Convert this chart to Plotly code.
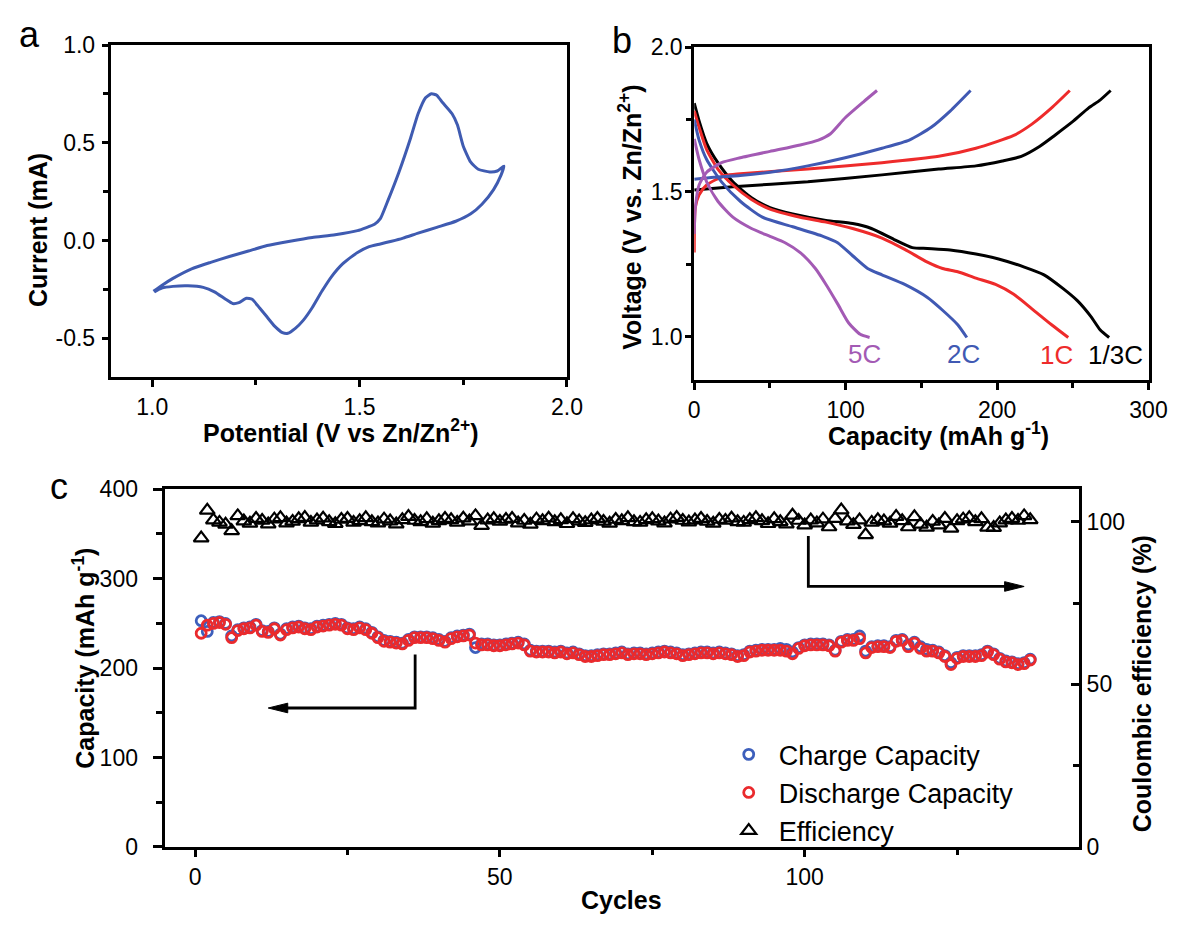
import plotly.graph_objects as go

W, H = 1191, 928
def px(x): return x / W
def py(y): return 1 - y / H

FONT = "Liberation Sans, Arial, sans-serif"

# ---------------- Panel a: CV curve ----------------
cv_potential = [1.003, 1.023, 1.05, 1.095, 1.141, 1.186, 1.232, 1.277, 1.332, 1.386, 1.441, 1.495,
                1.536, 1.55, 1.568, 1.595, 1.623, 1.641, 1.659, 1.673, 1.686, 1.70, 1.723, 1.736,
                1.75, 1.768, 1.786, 1.814, 1.832, 1.848,
                1.841, 1.823, 1.795, 1.768, 1.732, 1.686, 1.641, 1.605, 1.577, 1.55, 1.523, 1.495,
                1.459, 1.432, 1.409, 1.386, 1.364, 1.345, 1.327, 1.314, 1.295, 1.277, 1.259, 1.241,
                1.227, 1.209, 1.194, 1.177, 1.15, 1.123, 1.086, 1.05, 1.023, 1.005]
cv_current = [-0.259, -0.229, -0.193, -0.144, -0.111, -0.081, -0.053, -0.025, -0.003, 0.016, 0.030, 0.051,
              0.084, 0.112, 0.203, 0.351, 0.525, 0.649, 0.731, 0.751, 0.744, 0.706, 0.649, 0.591,
              0.483, 0.401, 0.365, 0.351, 0.356, 0.381,
              0.335, 0.261, 0.186, 0.137, 0.099, 0.068, 0.038, 0.013, -0.003, -0.017, -0.031, -0.061,
              -0.119, -0.185, -0.259, -0.342, -0.408, -0.449, -0.474, -0.470, -0.437, -0.391, -0.345, -0.300,
              -0.295, -0.317, -0.322, -0.300, -0.262, -0.239, -0.231, -0.234, -0.243, -0.262]
cv_ytick_vals = [-0.5, 0.0, 0.5, 1.0]
cv_ytick_text = ["-0.5", "0.0", "0.5", "1.0"]

# ---------------- Panel b: charge/discharge ----------------
c13_ch_cap = [0, 25.5, 75, 124, 161.5, 186, 203.5, 216, 228, 238, 250.5, 260.5, 268, 275]
c13_ch_v = [1.507, 1.518, 1.535, 1.559, 1.579, 1.590, 1.607, 1.623, 1.657, 1.695, 1.745, 1.790, 1.817, 1.85]
c13_dis_cap = [0, 3.2, 8.2, 15.6, 25.5, 37.8, 50, 65, 87, 104.6, 117, 132, 144, 154, 169, 186, 201, 218,
               231, 243, 253, 262, 268, 274]
c13_dis_v = [1.806, 1.745, 1.668, 1.601, 1.535, 1.480, 1.446, 1.424, 1.402, 1.391, 1.374, 1.336, 1.308,
             1.305, 1.300, 1.286, 1.269, 1.241, 1.214, 1.169, 1.125, 1.070, 1.025, 0.998]

c1_ch_cap = [0, 0.7, 3.2, 8.2, 20.5, 30.4, 75, 124, 161.5, 186, 211, 223, 236, 248]
c1_ch_v = [1.291, 1.446, 1.490, 1.524, 1.557, 1.563, 1.579, 1.601, 1.623, 1.651, 1.695, 1.734, 1.790, 1.850]
c1_dis_cap = [0, 3.2, 8.2, 15.6, 25.5, 37.8, 50, 70, 87, 104.6, 124, 139, 154, 164, 174, 186, 199, 211,
              223, 236, 247]
c1_dis_v = [1.780, 1.723, 1.646, 1.579, 1.524, 1.474, 1.441, 1.413, 1.396, 1.374, 1.341, 1.302, 1.258,
            1.236, 1.225, 1.203, 1.181, 1.147, 1.097, 1.042, 0.998]

c2_ch_cap = [0, 13, 30.4, 50, 75, 99.7, 124, 142, 156.5, 169, 182.5]
c2_ch_v = [1.544, 1.551, 1.557, 1.568, 1.590, 1.618, 1.651, 1.679, 1.723, 1.779, 1.850]
c2_dis_cap = [0, 3.2, 8.2, 18, 30.4, 45, 65, 85, 94.7, 104.6, 114.5, 124, 139, 154, 164, 174, 180]
c2_dis_v = [1.750, 1.679, 1.612, 1.535, 1.468, 1.413, 1.380, 1.347, 1.325, 1.280, 1.236, 1.214, 1.181,
            1.136, 1.092, 1.042, 0.998]

c5_ch_cap = [0, 0.7, 3.2, 8.2, 18, 30.4, 50, 70, 82, 90, 99.7, 112, 120.7]
c5_ch_v = [1.355, 1.446, 1.524, 1.568, 1.601, 1.618, 1.640, 1.662, 1.679, 1.701, 1.756, 1.812, 1.850]
c5_dis_cap = [0, 3.2, 8.2, 15.6, 25.5, 37.8, 50, 60, 70, 80, 87, 94.7, 102, 109.6, 115.8]
c5_dis_v = [1.683, 1.612, 1.535, 1.468, 1.413, 1.374, 1.347, 1.325, 1.291, 1.236, 1.181, 1.114, 1.048,
            1.009, 0.998]

rate_labels = ["5C", "2C", "1C", "1/3C"]

# ---------------- Panel c: cycling ----------------
cycles = list(range(1, 138))
discharge = [239, 248, 250, 251, 249, 234, 242, 244, 245, 248, 241, 240, 244, 237, 243, 245, 246, 244, 243, 246,
             247, 248, 249, 248, 244, 243, 245, 243, 239, 234, 230, 229, 228, 227, 231, 234, 234, 234, 233, 231,
             229, 233, 235, 236, 237, 228, 226, 226, 225, 225, 226, 227, 228, 226, 219, 218, 218, 218, 217, 218,
             216, 217, 215, 213, 213, 214, 215, 215, 216, 217, 215, 216, 216, 215, 216, 217, 218, 217, 216, 214,
             215, 216, 217, 217, 216, 217, 216, 215, 213, 214, 218, 219, 220, 220, 220, 220, 219, 216, 222, 225,
             226, 226, 226, 225, 219, 229, 231, 231, 233, 217, 223, 224, 224, 223, 230, 231, 224, 228, 222, 219,
             219, 217, 213, 204, 211, 213, 213, 213, 214, 218, 215, 210, 207, 206, 204, 205, 209]
charge = [253, 241, 251, 252, 250, 236, 243, 245, 246, 249, 242, 241, 245, 238, 244, 246, 247, 245, 244, 247,
          248, 249, 250, 249, 245, 244, 246, 244, 240, 235, 231, 230, 229, 228, 232, 235, 235, 235, 234, 232,
          230, 234, 236, 237, 238, 223, 227, 227, 226, 226, 227, 228, 229, 227, 220, 219, 219, 219, 218, 219,
          217, 218, 216, 214, 214, 215, 216, 216, 217, 218, 216, 217, 217, 216, 217, 218, 219, 218, 217, 215,
          216, 217, 218, 218, 217, 218, 217, 216, 214, 215, 219, 220, 221, 221, 221, 222, 221, 218, 223, 226,
          227, 227, 227, 226, 220, 230, 232, 232, 236, 219, 224, 225, 225, 224, 231, 232, 226, 229, 224, 221,
          220, 218, 214, 206, 212, 214, 214, 214, 215, 219, 216, 211, 208, 207, 205, 206, 210]
efficiency = [95.0, 103.5, 100.5, 99.8, 99.2, 97.2, 101.8, 100.2, 99.5, 101.0, 100.4, 99.3, 100.8, 101.2, 99.6,
              100.1, 100.9, 101.3, 99.8, 100.5, 101.1, 100.0, 99.4, 100.7, 101.0, 99.8, 100.3, 101.2, 100.0, 99.6,
              100.8, 100.2, 99.3, 100.6, 101.6, 100.4, 100.0, 100.9, 99.5, 100.3, 101.0, 100.6, 99.8, 101.1, 100.2,
              101.8, 98.8, 100.5, 100.9, 100.1, 100.7, 101.0, 99.6, 100.4, 99.2, 100.8, 100.3, 101.1, 100.0, 100.6,
              99.4, 100.9, 100.2, 99.7, 100.5, 101.0, 100.1, 99.5, 100.7, 100.3, 101.2, 100.0, 99.8, 100.6, 100.9,
              100.2, 99.6, 100.8, 101.3, 100.4, 99.9, 100.5, 101.0, 100.1, 99.5, 100.7, 100.4, 101.1, 100.0, 99.8,
              100.6, 101.2, 100.3, 99.4, 100.9, 100.0, 99.3, 102.0, 100.4, 99.0, 100.5, 99.6, 100.8, 98.4, 101.0,
              103.6, 100.2, 99.1, 100.5, 96.0, 99.8, 100.6, 100.2, 99.5, 101.6, 100.3, 98.4, 101.5, 99.2, 98.3,
              100.1, 99.0, 101.0, 98.0, 100.3, 100.8, 101.2, 100.0, 100.9, 98.3, 98.2, 99.6, 100.5, 101.0, 100.4,
              101.8, 100.6]

CV_BLUE = "#3f5bb1"
B_BLUE = "#4059b3"
B_RED = "#ee2b2b"
B_PURPLE = "#a35ab4"
C_BLUE = "#3d5fbc"
C_RED = "#ea2a2d"

fig = go.Figure()

fig.add_trace(go.Scatter(x=cv_potential, y=cv_current, mode="lines",
                         line=dict(color=CV_BLUE, width=3, shape="spline", smoothing=0.5),
                         xaxis="x", yaxis="y", showlegend=False))

for caps, vs, col in [(c13_ch_cap, c13_ch_v, "black"), (c13_dis_cap, c13_dis_v, "black"),
                      (c1_ch_cap, c1_ch_v, B_RED), (c1_dis_cap, c1_dis_v, B_RED),
                      (c2_ch_cap, c2_ch_v, B_BLUE), (c2_dis_cap, c2_dis_v, B_BLUE),
                      (c5_ch_cap, c5_ch_v, B_PURPLE), (c5_dis_cap, c5_dis_v, B_PURPLE)]:
    fig.add_trace(go.Scatter(x=caps, y=vs, mode="lines", line=dict(color=col, width=3, shape="spline", smoothing=0.6),
                             xaxis="x2", yaxis="y2", showlegend=False))

fig.add_trace(go.Scatter(x=cycles, y=charge, mode="markers", name="Charge Capacity",
                         marker=dict(symbol="circle-open", size=10, color=C_BLUE, line=dict(width=2.8, color=C_BLUE)),
                         xaxis="x3", yaxis="y3"))
fig.add_trace(go.Scatter(x=cycles, y=discharge, mode="markers", name="Discharge Capacity",
                         marker=dict(symbol="circle-open", size=10, color=C_RED, line=dict(width=2.8, color=C_RED)),
                         xaxis="x3", yaxis="y3"))
fig.add_trace(go.Scatter(x=cycles, y=efficiency, mode="markers", name="Efficiency",
                         marker=dict(symbol="triangle-up-open", size=13, color="black", line=dict(width=2.2, color="black")),
                         xaxis="x3", yaxis="y4"))

def axis(**kw):
    d = dict(showline=True, linecolor="black", linewidth=3, ticks="outside", tickwidth=3,
             ticklen=7, tickcolor="black", showgrid=False, zeroline=False,
             tickfont=dict(family=FONT, size=23, color="black"))
    d.update(kw)
    return d

def minor(dt, ticks="outside", ln=5):
    return dict(ticks=ticks, dtick=dt, ticklen=ln, tickwidth=3, tickcolor="black")

fig.update_layout(
    width=W, height=H, margin=dict(l=0, r=0, t=0, b=0),
    paper_bgcolor="white", plot_bgcolor="white",
    font=dict(family=FONT, color="black"),
    xaxis=axis(domain=[px(107), px(573)], range=[0.9, 2.0], tick0=1.0, dtick=0.5, tickformat=".1f",
               mirror=True, anchor="y", minor=minor(0.25)),
    yaxis=axis(domain=[py(375), py(33)], range=[-0.7, 1.0], tickmode="array",
               tickvals=cv_ytick_vals, ticktext=cv_ytick_text,
               mirror=True, anchor="x", minor=minor(0.25), ticklen=6, ticklabelstandoff=2),
    xaxis2=axis(domain=[px(703), px(1167)], range=[0, 300], tick0=0, dtick=100,
                mirror=True, anchor="y2", minor=minor(50)),
    yaxis2=axis(domain=[py(378), py(35)], range=[0.85, 2.0], tick0=0, dtick=0.5, tickformat=".1f",
                mirror=True, anchor="x2", minor=minor(0.25), ticklen=6, ticklabelstandoff=-2),
    xaxis3=axis(domain=[px(162), px(1096)], range=[-5, 145], tick0=0, dtick=50,
                mirror=True, anchor="y3", minor=minor(25)),
    yaxis3=axis(domain=[py(858), py(490)], range=[0, 400], tick0=0, dtick=100,
                anchor="x3", minor=minor(50, ln=6), ticklen=9, ticklabelstandoff=10),
    yaxis4=axis(domain=[py(858), py(490)], range=[0, 110], tick0=0, dtick=50, overlaying="y3", side="right",
                anchor="x3", ticks="inside", ticklen=8, minor=minor(25, ticks="inside", ln=6)),
    legend=dict(x=px(728), y=py(738), xanchor="left", yanchor="top", bgcolor="rgba(0,0,0,0)",
                font=dict(family=FONT, size=27, color="black"), itemsizing="trace", itemwidth=50,
                tracegroupgap=0),
)

ann = []
def label(text, x, y, size, angle=0, color="black"):
    ann.append(dict(text=text, x=px(x), y=py(y), xref="paper", yref="paper", showarrow=False,
                    xanchor="center", yanchor="middle", textangle=angle,
                    font=dict(family=FONT, size=size, color=color)))

label("a", 24, 22, 36)
label("b", 629, 28, 36)
label("c", 54, 487, 36)
label("<b>Potential (V vs Zn/Zn<sup>2+</sup>)</b>", 342, 430, 25)
label("<b>Current (mA)</b>", 32, 223, 25, -90)
label("<b>Capacity (mAh g<sup>-1</sup>)</b>", 953, 433, 25)
label("<b>Voltage (V vs. Zn/Zn<sup>2+</sup>)</b>", 638, 210, 25, -90)
label("<b>Cycles</b>", 629, 913, 25)
label("<b>Capacity (mAh g<sup>-1</sup>)</b>", 80, 664, 25, -90)
label("<b>Coulombic efficiency (%)</b>", 1160, 690, 25, -90)
for txt, xx, yy, col in zip(rate_labels, [877, 978, 1073, 1133], [351, 351, 352, 352],
                            [B_PURPLE, B_BLUE, B_RED, "black"]):
    label(txt, xx, yy, 26, color=col)
fig.update_layout(annotations=ann)

# bent arrows in panel c (drawn as shapes)
arrow_line = dict(color="black", width=2.8)
fig.add_shape(type="path", path="M 36.1 215.2 L 36.1 155.4 L 14.5 155.4", xref="x3", yref="y3", line=arrow_line)
fig.add_shape(type="path", path="M 12 155.4 L 15.2 160.8 L 15.2 150.0 Z", xref="x3", yref="y3",
              line=dict(color="black", width=1), fillcolor="black")
fig.add_shape(type="path", path="M 100.6 347.8 L 100.6 291.3 L 133.5 291.3", xref="x3", yref="y3", line=arrow_line)
fig.add_shape(type="path", path="M 136 291.3 L 132.8 296.7 L 132.8 285.9 Z", xref="x3", yref="y3",
              line=dict(color="black", width=1), fillcolor="black")

fig.write_html("out.html", post_script="document.body.style.margin='0';",
               config={"displayModeBar": False})
